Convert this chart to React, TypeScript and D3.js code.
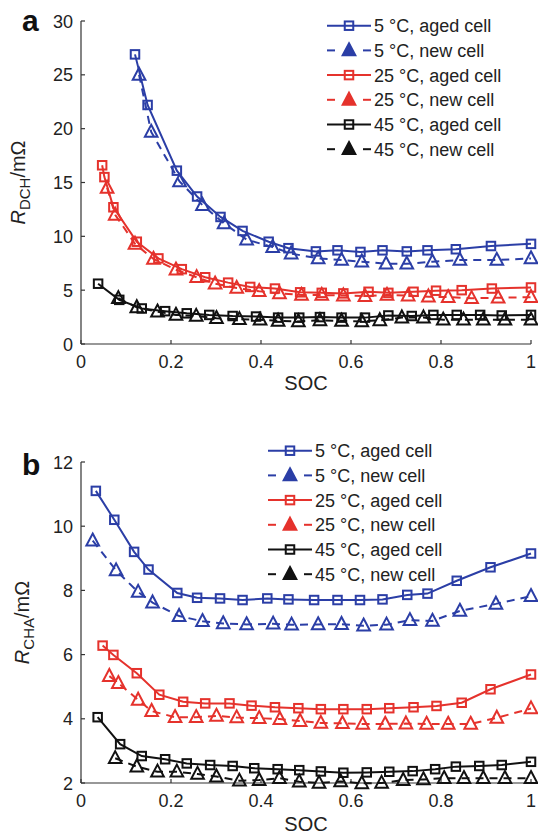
import React from "react";
import * as d3 from "d3";

// ---------- Data ----------
const xTicks = [0, 0.2, 0.4, 0.6, 0.8, 1];
const xTickLabels = ["0", "0.2", "0.4", "0.6", "0.8", "1"];
const yTicksA = [0, 5, 10, 15, 20, 25, 30];
const yTicksB = [2, 4, 6, 8, 10, 12];

const legendLabels = [
  "5 \u00B0C, aged cell",
  "5 \u00B0C, new cell",
  "25 \u00B0C, aged cell",
  "25 \u00B0C, new cell",
  "45 \u00B0C, aged cell",
  "45 \u00B0C, new cell",
];

// Panel a: discharge resistance
const blueAgedSocA = [0.12, 0.148, 0.213, 0.258, 0.31, 0.359, 0.417, 0.461, 0.522, 0.57, 0.621, 0.67, 0.724, 0.77, 0.833, 0.911, 1.0];
const blueAgedValA = [26.9, 22.2, 16.1, 13.7, 11.8, 10.5, 9.5, 8.9, 8.6, 8.7, 8.55, 8.7, 8.6, 8.7, 8.8, 9.1, 9.3];
const blueNewSocA = [0.129, 0.156, 0.219, 0.27, 0.318, 0.368, 0.426, 0.467, 0.527, 0.579, 0.624, 0.678, 0.724, 0.781, 0.842, 0.924, 1.0];
const blueNewValA = [25.0, 19.7, 15.1, 12.9, 11.2, 9.7, 9.0, 8.4, 7.95, 7.8, 7.65, 7.45, 7.45, 7.65, 7.8, 7.8, 7.95];
const redAgedSocA = [0.047, 0.052, 0.072, 0.124, 0.172, 0.224, 0.276, 0.327, 0.376, 0.431, 0.487, 0.535, 0.583, 0.639, 0.683, 0.739, 0.789, 0.846, 0.913, 1.0];
const redAgedValA = [16.6, 15.5, 12.7, 9.5, 7.95, 6.95, 6.2, 5.7, 5.3, 5.15, 4.8, 4.75, 4.7, 4.85, 4.75, 4.85, 4.95, 5.0, 5.15, 5.25];
const redNewSocA = [0.058, 0.076, 0.12, 0.161, 0.211, 0.257, 0.298, 0.346, 0.396, 0.441, 0.49, 0.535, 0.583, 0.631, 0.68, 0.727, 0.772, 0.816, 0.868, 0.927, 1.0];
const redNewValA = [14.5, 12.0, 9.3, 7.9, 6.9, 6.2, 5.6, 5.2, 4.9, 4.7, 4.55, 4.55, 4.5, 4.45, 4.55, 4.5, 4.4, 4.35, 4.25, 4.3, 4.35];
const blackAgedSocA = [0.038, 0.085, 0.135, 0.187, 0.235, 0.285, 0.337, 0.389, 0.438, 0.485, 0.531, 0.579, 0.631, 0.683, 0.735, 0.783, 0.835, 0.887, 0.935, 1.0];
const blackAgedValA = [5.6, 4.1, 3.3, 3.05, 2.85, 2.7, 2.6, 2.55, 2.45, 2.45, 2.5, 2.45, 2.45, 2.65, 2.6, 2.7, 2.7, 2.7, 2.65, 2.7];
const blackNewSocA = [0.083, 0.124, 0.17, 0.211, 0.256, 0.301, 0.352, 0.398, 0.438, 0.483, 0.531, 0.579, 0.624, 0.664, 0.713, 0.761, 0.805, 0.85, 0.894, 0.942, 1.0];
const blackNewValA = [4.25, 3.4, 3.0, 2.7, 2.6, 2.4, 2.3, 2.25, 2.15, 2.1, 2.2, 2.15, 2.1, 2.2, 2.45, 2.45, 2.25, 2.25, 2.25, 2.25, 2.25];

// Panel b: charge resistance
const blueAgedSocB = [0.033, 0.074, 0.118, 0.15, 0.214, 0.258, 0.309, 0.359, 0.414, 0.461, 0.518, 0.57, 0.62, 0.67, 0.725, 0.77, 0.835, 0.91, 1.0];
const blueAgedValB = [11.1, 10.2, 9.2, 8.65, 7.92, 7.77, 7.75, 7.7, 7.75, 7.72, 7.7, 7.7, 7.7, 7.72, 7.86, 7.9, 8.3, 8.72, 9.15];
const blueNewSocB = [0.026, 0.078, 0.127, 0.159, 0.218, 0.27, 0.316, 0.368, 0.427, 0.468, 0.527, 0.579, 0.628, 0.679, 0.731, 0.781, 0.842, 0.922, 1.0];
const blueNewValB = [9.55, 8.62, 7.95, 7.62, 7.2, 7.04, 6.97, 6.94, 6.96, 6.93, 6.94, 6.95, 6.9, 6.93, 7.07, 7.05, 7.36, 7.58, 7.82];
const redAgedSocB = [0.048, 0.072, 0.124, 0.174, 0.227, 0.276, 0.33, 0.379, 0.431, 0.483, 0.533, 0.583, 0.635, 0.685, 0.739, 0.79, 0.846, 0.91, 1.0];
const redAgedValB = [6.28, 5.99, 5.42, 4.75, 4.53, 4.48, 4.48, 4.41, 4.36, 4.33, 4.3, 4.3, 4.3, 4.33, 4.36, 4.4, 4.5, 4.92, 5.38];
const redNewSocB = [0.063, 0.083, 0.127, 0.157, 0.209, 0.256, 0.301, 0.346, 0.396, 0.442, 0.487, 0.533, 0.581, 0.626, 0.676, 0.722, 0.768, 0.816, 0.866, 0.924, 1.0];
const redNewValB = [5.33, 5.11, 4.59, 4.24, 4.05, 4.05, 4.09, 4.04, 4.02, 3.99, 3.93, 3.87, 3.86, 3.84, 3.84, 3.85, 3.84, 3.84, 3.84, 4.03, 4.32];
const blackAgedSocB = [0.037, 0.087, 0.135, 0.187, 0.235, 0.287, 0.337, 0.385, 0.437, 0.485, 0.533, 0.583, 0.635, 0.685, 0.737, 0.787, 0.833, 0.885, 0.935, 1.0];
const blackAgedValB = [4.05, 3.21, 2.84, 2.74, 2.61, 2.56, 2.53, 2.46, 2.43, 2.4, 2.36, 2.32, 2.33, 2.35, 2.37, 2.43, 2.51, 2.53, 2.56, 2.66];
const blackNewSocB = [0.076, 0.124, 0.17, 0.213, 0.259, 0.301, 0.352, 0.396, 0.441, 0.485, 0.529, 0.577, 0.624, 0.668, 0.716, 0.761, 0.807, 0.851, 0.894, 0.942, 1.0];
const blackNewValB = [2.77, 2.51, 2.35, 2.35, 2.28, 2.2, 2.07, 2.09, 2.15, 2.04, 2.0, 2.05, 1.99, 2.0, 2.09, 2.11, 2.15, 2.15, 2.15, 2.15, 2.15];

// ---------- Styles ----------
const BLUE = "#2b3ea6";
const RED = "#e5322c";
const BLACK = "#111111";
const FONT = "'Liberation Sans', Arial, Helvetica, sans-serif";

type Series = { soc: number[]; val: number[]; color: string; aged: boolean };

const seriesA: Series[] = [
  { soc: blueAgedSocA, val: blueAgedValA, color: BLUE, aged: true },
  { soc: blueNewSocA, val: blueNewValA, color: BLUE, aged: false },
  { soc: redAgedSocA, val: redAgedValA, color: RED, aged: true },
  { soc: redNewSocA, val: redNewValA, color: RED, aged: false },
  { soc: blackAgedSocA, val: blackAgedValA, color: BLACK, aged: true },
  { soc: blackNewSocA, val: blackNewValA, color: BLACK, aged: false },
];
const seriesB: Series[] = [
  { soc: blueAgedSocB, val: blueAgedValB, color: BLUE, aged: true },
  { soc: blueNewSocB, val: blueNewValB, color: BLUE, aged: false },
  { soc: redAgedSocB, val: redAgedValB, color: RED, aged: true },
  { soc: redNewSocB, val: redNewValB, color: RED, aged: false },
  { soc: blackAgedSocB, val: blackAgedValB, color: BLACK, aged: true },
  { soc: blackNewSocB, val: blackNewValB, color: BLACK, aged: false },
];

const triPath = (cx: number, cy: number, s: number) =>
  `M${cx},${cy - s * 0.62}L${cx + s * 0.55},${cy + s * 0.42}L${cx - s * 0.55},${cy + s * 0.42}Z`;

function Marker({ x, y, color, aged, filled }: { x: number; y: number; color: string; aged: boolean; filled?: boolean }) {
  if (aged) {
    const s = 8.5;
    return <rect x={x - s / 2} y={y - s / 2} width={s} height={s} fill="none" stroke={color} strokeWidth={2} />;
  }
  return <path d={triPath(x, y, 11.5)} fill={filled ? color : "none"} stroke={color} strokeWidth={2} strokeLinejoin="miter" />;
}

type PanelProps = {
  top: number;
  bottom: number;
  yDomain: [number, number];
  yTicks: number[];
  series: Series[];
  letter: string;
  letterY: number;
  sub: string;
  labelX: number;
  legendX: number;
  legendY: number;
  socY: number;
};

function Panel(p: PanelProps) {
  const left = 81;
  const right = 531;
  const x = d3.scaleLinear().domain([0, 1]).range([left, right]);
  const y = d3.scaleLinear().domain(p.yDomain).range([p.bottom, p.top]);
  const line = d3
    .line<[number, number]>()
    .x((d) => x(d[0]))
    .y((d) => y(d[1]));
  const midY = (p.top + p.bottom) / 2;
  return (
    <g>
      {/* axes */}
      <line x1={left} x2={left} y1={p.top} y2={p.bottom} stroke="#333" strokeWidth={1.2} />
      <line x1={left} x2={right} y1={p.bottom} y2={p.bottom} stroke="#333" strokeWidth={1.2} />
      {xTicks.map((t, i) => (
        <g key={"xt" + i}>
          <line x1={x(t)} x2={x(t)} y1={p.bottom} y2={p.bottom - 4} stroke="#333" strokeWidth={1.2} />
          <text x={x(t)} y={p.bottom + 24} textAnchor="middle" fontSize={18} fontFamily={FONT} fill="#222">
            {xTickLabels[i]}
          </text>
        </g>
      ))}
      {p.yTicks.map((t, i) => (
        <g key={"yt" + i}>
          <line x1={left} x2={left + 4} y1={y(t)} y2={y(t)} stroke="#333" strokeWidth={1.2} />
          <text x={73} y={y(t) + 6.5} textAnchor="end" fontSize={18} fontFamily={FONT} fill="#222">
            {t}
          </text>
        </g>
      ))}
      <text x={306} y={p.socY} textAnchor="middle" fontSize={20} fontFamily={FONT} fill="#222">
        SOC
      </text>
      <text
        transform={`translate(${p.labelX},${midY}) rotate(-90)`}
        textAnchor="middle"
        fontSize={20}
        fontFamily={FONT}
        fill="#222"
      >
        <tspan fontStyle="italic">R</tspan>
        <tspan fontSize={15} dy={5}>{p.sub}</tspan>
        <tspan dy={-5}>/m{"\u03A9"}</tspan>
      </text>
      <text x={22} y={p.letterY} fontSize={30} fontWeight="bold" fontFamily={FONT} fill="#111">
        {p.letter}
      </text>

      {/* data */}
      {p.series.map((s, si) => {
        const pts: [number, number][] = s.soc.map((v, i) => [v, s.val[i]]);
        return (
          <g key={"s" + si}>
            <path
              d={line(pts) || ""}
              fill="none"
              stroke={s.color}
              strokeWidth={2}
              strokeDasharray={s.aged ? undefined : "8,6"}
            />
            {pts.map((d, i) => (
              <Marker key={i} x={x(d[0])} y={y(d[1])} color={s.color} aged={s.aged} />
            ))}
          </g>
        );
      })}

      {/* legend */}
      {p.series.map((s, i) => {
        const ly = p.legendY + i * 24.7;
        return (
          <g key={"lg" + i}>
            {s.aged ? (
              <line x1={p.legendX} x2={p.legendX + 44} y1={ly} y2={ly} stroke={s.color} strokeWidth={2} />
            ) : (
              <g>
                <line x1={p.legendX} x2={p.legendX + 8} y1={ly} y2={ly} stroke={s.color} strokeWidth={2} />
                <line x1={p.legendX + 36} x2={p.legendX + 44} y1={ly} y2={ly} stroke={s.color} strokeWidth={2} />
              </g>
            )}
            <Marker x={p.legendX + 22} y={ly} color={s.color} aged={s.aged} filled={!s.aged} />
            <text x={p.legendX + 47} y={ly + 6.5} fontSize={18} fontFamily={FONT} fill="#222">
              {legendLabels[i]}
            </text>
          </g>
        );
      })}
    </g>
  );
}

export default function App() {
  return (
    <svg
      width={538}
      height={836}
      viewBox="0 0 538 836"
      style={{ position: "absolute", left: 0, top: 0, background: "#fff" }}
    >
      <rect width={538} height={836} fill="#fff" />
      <Panel
        top={21}
        bottom={344}
        yDomain={[0, 30]}
        yTicks={yTicksA}
        series={seriesA}
        letter="a"
        letterY={31}
        sub="DCH"
        labelX={25}
        legendX={327}
        legendY={25.7}
        socY={390}
      />
      <Panel
        top={462}
        bottom={783}
        yDomain={[2, 12]}
        yTicks={yTicksB}
        series={seriesB}
        letter="b"
        letterY={475}
        sub="CHA"
        labelX={29}
        legendX={268}
        legendY={450.7}
        socY={831}
      />
    </svg>
  );
}
